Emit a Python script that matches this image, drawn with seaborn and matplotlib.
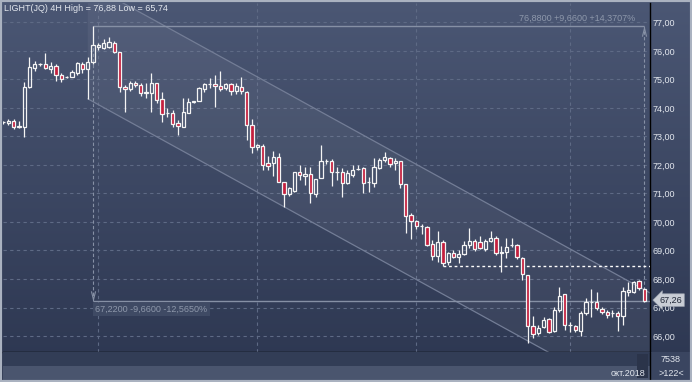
import numpy as np
import pandas as pd
import matplotlib
matplotlib.use("Agg")
import matplotlib.pyplot as plt
import seaborn as sns
from matplotlib.patches import Rectangle
from matplotlib.colors import LinearSegmentedColormap
from matplotlib.ticker import FuncFormatter
from matplotlib.path import Path
from matplotlib.markers import MarkerStyle
import matplotlib.transforms as mtransforms

# ---------------- data (LIGHT(JQ), 4H bars) ----------------
opens = [73.50, 73.46, 73.54, 73.34, 73.32, 74.73, 75.39, 75.53, 75.53, 75.37,
         75.48, 75.15, 75.07, 75.10, 75.24, 75.53, 75.36, 75.60, 76.13, 76.10,
         76.13, 76.29, 75.95, 74.73, 74.66, 74.89, 74.82, 74.54, 74.54, 74.89,
         74.31, 73.81, 73.81, 73.48, 73.34, 73.81, 74.21, 74.26, 74.66, 74.83,
         74.84, 74.77, 74.69, 74.84, 74.61, 74.75, 74.57, 73.40, 72.62, 72.68,
         72.06, 72.06, 72.27, 71.41, 70.98, 71.10, 71.74, 71.61, 71.67, 70.98,
         71.53, 72.14, 72.14, 71.76, 71.74, 71.38, 71.65, 71.85, 71.88, 71.39,
         71.36, 71.88, 72.18, 72.24, 72.06, 72.14, 71.32, 70.25, 70.04, 69.86,
         69.84, 69.23, 68.82, 69.29, 68.59, 68.90, 68.78, 68.87, 69.19, 69.34,
         69.29, 69.04, 69.34, 69.43, 68.92, 68.96, 69.18, 69.19, 68.73, 68.14,
         66.35, 66.09, 66.31, 66.60, 66.19, 66.91, 67.46, 66.39, 66.35, 66.19,
         66.82, 67.20, 67.18, 66.94, 66.83, 66.80, 66.80, 66.71, 67.53, 67.56,
         67.93, 67.64]
highs = [73.55, 73.62, 73.60, 73.54, 74.91, 75.78, 75.63, 75.58, 75.94, 75.61,
         75.54, 75.22, 75.12, 75.33, 75.60, 75.61, 75.80, 76.88, 76.27, 76.41,
         76.48, 76.36, 75.95, 74.81, 74.96, 74.96, 74.87, 74.89, 75.22, 74.89,
         74.57, 73.99, 73.93, 73.58, 74.34, 74.36, 74.25, 74.75, 74.89, 75.04,
         75.16, 75.30, 74.89, 74.89, 74.89, 75.10, 74.60, 73.60, 72.74, 72.74,
         72.32, 72.50, 72.41, 71.41, 71.24, 71.74, 72.00, 71.94, 71.94, 71.51,
         72.70, 72.22, 72.20, 71.93, 71.88, 71.82, 72.00, 72.00, 71.94, 71.58,
         72.24, 72.24, 72.47, 72.27, 72.24, 72.14, 71.32, 70.31, 70.07, 69.92,
         69.86, 69.37, 69.68, 69.37, 68.93, 69.02, 69.02, 69.34, 69.78, 69.42,
         69.50, 69.40, 69.68, 69.50, 69.16, 69.43, 69.45, 69.22, 68.78, 68.14,
         66.70, 66.38, 66.68, 66.63, 67.01, 67.71, 67.46, 66.50, 66.39, 66.87,
         67.32, 67.64, 67.55, 67.02, 66.93, 66.92, 66.89, 67.73, 67.91, 67.94,
         67.96, 67.70]
lows = [73.45, 73.40, 73.25, 73.29, 72.97, 74.70, 75.31, 75.46, 75.38, 75.22,
        74.95, 74.92, 75.05, 75.08, 75.16, 75.24, 74.32, 75.55, 76.04, 76.06,
        76.10, 75.92, 74.57, 73.87, 74.61, 74.75, 74.42, 74.34, 73.84, 74.19,
        73.52, 73.69, 73.34, 73.05, 73.34, 73.81, 74.17, 74.26, 74.57, 74.69,
        74.02, 74.61, 74.62, 74.46, 74.50, 74.50, 72.88, 72.41, 72.53, 71.82,
        71.82, 71.61, 71.41, 70.52, 70.91, 71.05, 71.47, 71.30, 70.66, 70.89,
        71.53, 72.03, 71.26, 71.48, 70.89, 71.32, 71.57, 71.82, 71.03, 71.06,
        71.24, 71.86, 72.12, 71.94, 71.82, 71.18, 69.62, 69.42, 69.74, 69.57,
        69.17, 68.67, 68.59, 68.47, 68.49, 68.73, 68.57, 68.84, 69.08, 68.98,
        69.04, 68.98, 69.30, 68.84, 68.26, 68.74, 69.13, 68.69, 67.96, 65.74,
        65.92, 66.03, 66.27, 66.10, 66.15, 66.85, 66.21, 66.15, 66.15, 66.00,
        66.75, 66.68, 66.93, 66.78, 66.62, 66.68, 66.19, 66.39, 67.41, 67.50,
        67.62, 67.20]
closes = [73.50, 73.55, 73.34, 73.35, 74.75, 75.45, 75.53, 75.54, 75.39, 75.48,
          75.15, 75.01, 75.08, 75.25, 75.57, 75.36, 75.60, 76.21, 76.21, 76.29,
          76.32, 75.95, 74.75, 74.66, 74.89, 74.80, 74.52, 74.55, 74.89, 74.28,
          73.79, 73.82, 73.44, 73.37, 73.84, 74.20, 74.23, 74.71, 74.84, 74.84,
          74.77, 74.66, 74.84, 74.61, 74.77, 74.61, 73.40, 72.62, 72.70, 72.00,
          71.98, 72.27, 71.41, 70.98, 71.18, 71.74, 71.65, 71.67, 71.01, 71.51,
          72.14, 72.15, 71.76, 71.77, 71.36, 71.71, 71.82, 71.86, 71.36, 71.40,
          71.92, 72.18, 72.27, 72.04, 72.15, 71.32, 70.21, 70.04, 69.86, 69.87,
          69.19, 68.82, 69.29, 68.55, 68.90, 68.78, 68.88, 69.19, 69.34, 69.04,
          69.08, 69.34, 69.43, 68.90, 68.93, 69.11, 69.19, 68.76, 68.18, 66.35,
          66.06, 66.29, 66.56, 66.13, 66.91, 67.41, 66.39, 66.40, 66.21, 66.80,
          67.20, 67.21, 66.97, 66.83, 66.74, 66.81, 66.71, 67.59, 67.61, 67.88,
          67.67, 67.24]

tick_bars = [18, 48, 78, 107]
tick_labels = ["04", "11", "18", "25"]
month_label = "окт.2018"
y_ticks = [66, 67, 68, 69, 70, 71, 72, 73, 74, 75, 76, 77]

channel_bars = [16, 122.1]
channel_lower = [74.32, 63.47]
channel_upper = [78.36, 67.51]

meas_start_bar = 17
meas_end_bar = 121
meas_high = 76.88
meas_low = 67.22
meas_high_text = "76,8800 +9,6600 +14,3707%"
meas_low_text = "67,2200 -9,6600 -12,5650%"
last_price = 67.26
support_bar = 83
support_level = 68.47
title = "LIGHT(JQ) 4H High = 76,88 Low = 65,74"
count_label = "7538"
bars_label = ">122<"

# ---------------- style ----------------
sns.set_theme(style="dark")
plt.rcParams['font.family'] = ['Liberation Sans', 'DejaVu Sans']
FS = 6.5
TXT = '#e3e7ee'

W, H = 692, 382
fig = plt.figure(figsize=(W / 100, H / 100), dpi=100)

# background gradient over whole figure
bg = fig.add_axes([0, 0, 1, 1])
bg.axis('off')
grad = np.linspace(0, 1, 256).reshape(-1, 1)
cmap = LinearSegmentedColormap.from_list('g', ['#4b5774', '#2c3650'])
bg.imshow(grad, aspect='auto', cmap=cmap, extent=[0, 1, 0, 1],
          transform=bg.transAxes, zorder=0)

# bottom bands
fig.add_artist(Rectangle((3 / W, 16 / H), 647 / W, 14 / H, transform=fig.transFigure,
                         facecolor='#323d56', edgecolor='none', zorder=1))
fig.add_artist(Rectangle((3 / W, 2 / H), 647 / W, 14 / H, transform=fig.transFigure,
                         facecolor='#4a556e', edgecolor='none', zorder=1))
fig.add_artist(Rectangle((650 / W, 2 / H), 40 / W, 28 / H, transform=fig.transFigure,
                         facecolor='#3a4560', edgecolor='none', zorder=1))
fig.add_artist(Rectangle((637 / W, 4 / H), 11 / W, 24 / H, transform=fig.transFigure,
                         facecolor='#2b344a', edgecolor='none', zorder=1))

ax = fig.add_axes([3 / W, 30 / H, 647 / W, 349 / H])
ax.patch.set_alpha(0)

df = pd.DataFrame({'o': opens, 'h': highs, 'l': lows, 'c': closes})
df['x'] = np.arange(len(df))
up = (df['c'] >= df['o']).to_numpy()
body_lo = np.minimum(df['o'], df['c'])
body_hi = np.maximum(df['o'], df['c'])
height = np.maximum(body_hi - body_lo, 0.01)

# channel
ax.fill_between(channel_bars, channel_lower, channel_upper, color='white',
                alpha=0.05, lw=0, zorder=1)
sns.lineplot(x=channel_bars, y=channel_lower, ax=ax, color='#737d96', lw=0.9, zorder=2)
sns.lineplot(x=channel_bars, y=channel_upper, ax=ax, color='#737d96', lw=0.9, zorder=2)

# candles
EC = '#f4f4f4'
ax.vlines(df['x'], body_hi, df['h'], color=EC, lw=0.9, zorder=4)
ax.vlines(df['x'], df['l'], body_lo, color=EC, lw=0.9, zorder=4)
face = [(0, 0, 0, 0) if u else '#c41f3e' for u in up]
ax.bar(df['x'], height, bottom=body_lo, width=0.62, color=face, edgecolor=EC,
       lw=0.9, zorder=5)

# measurement tool
MC = '#8690a5'
xmax = 122.08
ax.hlines(meas_high, meas_start_bar, meas_end_bar, color=MC, lw=1, zorder=3)
ax.hlines(meas_low, meas_start_bar, xmax, color=MC, lw=1, zorder=3)
ax.vlines(meas_start_bar, meas_low, meas_high, color=MC, lw=0.8,
          linestyles=(0, (3, 2)), zorder=3)
ax.vlines(meas_end_bar, meas_low, meas_high, color=MC, lw=0.8,
          linestyles=(0, (3, 2)), zorder=3)
chev_down = MarkerStyle(Path([(-0.5, 1), (0, -1), (0.5, 1)],
                             [Path.MOVETO, Path.LINETO, Path.LINETO]))
chev_up = MarkerStyle(Path([(-0.5, -1), (0, 1), (0.5, -1)],
                           [Path.MOVETO, Path.LINETO, Path.LINETO]))
ax.plot([meas_start_bar], [meas_low], marker=chev_down, ms=6, mfc='none', mec=MC,
        mew=0.8, ls='none', zorder=3,
        transform=ax.transData + mtransforms.ScaledTranslation(0, 6 / 100, fig.dpi_scale_trans))
ax.plot([meas_end_bar], [meas_high], marker=chev_up, ms=6, mfc='none', mec=MC,
        mew=0.8, ls='none', zorder=3,
        transform=ax.transData + mtransforms.ScaledTranslation(0, -6 / 100, fig.dpi_scale_trans))
ax.annotate(meas_high_text, xy=(meas_end_bar, meas_high), xytext=(-6.5, 2),
            textcoords='offset points', ha='right', va='bottom', fontsize=FS,
            color='#8e98ab', zorder=6)
ax.annotate(meas_low_text, xy=(meas_start_bar, meas_low), xytext=(1.5, -6),
            textcoords='offset points', ha='left', va='center', fontsize=FS,
            color='#8e98ab', zorder=6,
            bbox=dict(boxstyle='square,pad=0.25', facecolor='#3f4a64',
                      edgecolor='none'))

# support dashed line
ax.hlines(support_level, support_bar, xmax, color='white', lw=1,
          linestyles=(0, (2, 2)), zorder=3)

# axes limits and grid
ax.set_xlim(0, xmax)
ax.set_ylim(65.44, 77.68)
ax.set_yticks(y_ticks)
ax.set_xticks(tick_bars)
ax.set_xticklabels(tick_labels)
ax.yaxis.set_major_formatter(FuncFormatter(lambda v, p: f"{v:.2f}".replace('.', ',')))
ax.yaxis.tick_right()
ax.grid(True, color='#5e6a85', lw=0.8, ls=(0, (3, 3)))
ax.set_axisbelow(True)
ax.tick_params(axis='y', length=0, pad=2, labelsize=FS, labelcolor=TXT)
ax.tick_params(axis='x', length=0, pad=2.5, labelsize=FS, labelcolor=TXT)
for s in ['top', 'left']:
    ax.spines[s].set_visible(False)
for s in ['right', 'bottom']:
    ax.spines[s].set_color('black')
    ax.spines[s].set_linewidth(1)
ax.set_xlabel('')
ax.set_ylabel('')

# last price label
ax.annotate(f"{last_price:.2f}".replace('.', ','), xy=(1, last_price),
            xycoords=('axes fraction', 'data'), xytext=(7, 0),
            textcoords='offset points', ha='left', va='center', fontsize=FS,
            color='#1e2535', zorder=10, annotation_clip=False,
            bbox=dict(boxstyle='larrow,pad=0.2', facecolor='#c9cdd5',
                      edgecolor='#9aa1ae', lw=0.5))

# texts
fig.text(4 / W, 1 - 8.5 / H, title, ha='left', va='center', fontsize=FS, color=TXT)
fig.text(645 / W, 9 / H, month_label, ha='right', va='center', fontsize=FS, color=TXT)
fig.text(671 / W, 23 / H, count_label, ha='center', va='center', fontsize=FS, color=TXT)
fig.text(671 / W, 9 / H, bars_label, ha='center', va='center', fontsize=FS, color=TXT)

# vertical separator in right bottom box and outer frame
fig.add_artist(plt.Line2D([650 / W, 650 / W], [2 / H, 30 / H], color='black', lw=1,
                          transform=fig.transFigure))
fig.add_artist(Rectangle((0, 0), 1, 1, transform=fig.transFigure, facecolor='none',
                         edgecolor='#aab2c0', lw=3, zorder=20))

fig.savefig('out.png', dpi=100)
